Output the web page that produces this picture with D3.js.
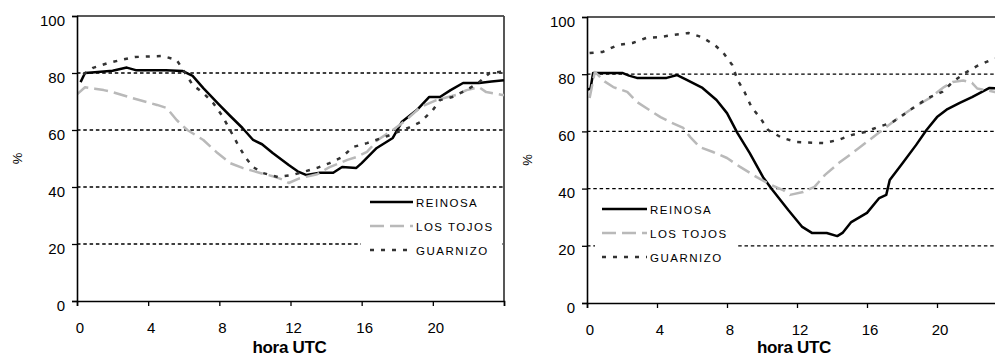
<!DOCTYPE html>
<html>
<head>
<meta charset="utf-8">
<script src="https://cdn.jsdelivr.net/npm/d3@7"></script>
<style>
  html, body { margin: 0; padding: 0; background: #fff; }
  svg { display: block; }
  text { font-family: "Liberation Sans", Arial, sans-serif; fill: #000; }
</style>
</head>
<body>
<svg id="chart" width="995" height="356"></svg>
<script>
// ---------- DATA ----------
const xTicks = [0, 4, 8, 12, 16, 20, 24];
const xTickLabels = ["0", "4", "8", "12", "16", "20", ""];
const yTicks = [0, 20, 40, 60, 80, 100];
const gridValues = [20, 40, 60, 80];
const seriesNames = ["REINOSA", "LOS TOJOS", "GUARNIZO"];
const xTitle = "hora UTC";
const yTitle = "%";

// Left panel: [hour, %]
const leftReinosa = [[0.2,76.8],[0.45,80],[1,80.3],[2,80.8],[2.8,81.9],[3.3,81],[4,81],[5,81],[5.95,80.7],[6.5,79],[7.1,74.7],[8.0,68.8],[8.6,65],[9.3,60.7],[9.9,56.5],[10.4,55],[11.0,51.9],[11.9,47.7],[12.4,45.5],[12.9,44.2],[13.65,45],[14.4,45],[14.9,47],[15.7,46.7],[16.0,48.4],[16.85,53.7],[17.75,57.2],[18.25,62.8],[19.1,67],[19.8,71.6],[20.4,71.6],[21.0,74],[21.7,76.5],[22.6,76.5],[23.3,77],[24,77.5]];
const leftTojos = [[0,72.5],[0.45,75],[1,74.5],[1.5,74],[2,73.3],[3.1,71.2],[3.5,70.5],[4.5,68.8],[5.05,67.7],[5.6,63.5],[6.2,60],[7.1,56.5],[7.9,51.9],[8.6,48.4],[9.3,46.7],[10.3,44.9],[11.0,43.8],[11.6,42.5],[11.9,41.4],[12.5,43],[13.5,44.5],[14.2,47],[15.2,49.5],[15.7,50.5],[16.3,52.3],[16.9,56.5],[17.75,60],[18.5,63.5],[19.3,68],[20.2,70.5],[21.3,72.3],[21.9,74],[22.6,75],[23,73.3],[23.9,72.3],[24,72.3]];
const leftGuarnizo = [[0.35,79.5],[0.9,81.8],[1.75,83.5],[2.5,84.6],[3.25,85.6],[4.8,86],[5.6,84.6],[6.05,80.3],[6.5,75.8],[7.1,73],[7.65,69.5],[8.2,64.6],[8.6,60],[9.0,55.4],[9.45,50.5],[9.9,47],[10.45,44.9],[11.3,43.5],[12.1,44.2],[13.5,46.7],[14.2,48.4],[14.9,50.5],[15.5,54],[16.3,55.4],[17.5,58],[18.6,60.7],[19.3,62.8],[20.0,67],[20.4,70.5],[21.1,71.6],[21.9,74],[22.6,76.8],[23.2,80],[24,80.5]];

// Right panel: [hour, %]
const rightReinosa = [[0,74.5],[0.2,75],[0.35,80.4],[1,80.4],[2.05,80.4],[2.4,79.5],[2.85,78.7],[4.55,78.7],[5.15,79.7],[5.7,78],[6.6,75.2],[7.4,71],[8.0,66.4],[8.6,59.4],[9.3,52.4],[10.06,44],[10.6,39.5],[11.5,32.5],[12.3,26.6],[12.85,24.5],[13.7,24.5],[14.3,23.4],[14.6,24.5],[15.1,28.3],[16.0,31.5],[16.7,36.7],[17.1,37.8],[17.3,43],[18.05,49],[18.8,55.2],[19.4,60.5],[20.0,65],[20.6,67.8],[21.3,70],[22.0,72],[23.0,75.2],[23.5,75],[24,75]];
const rightTojos = [[0.15,71.7],[0.45,80.8],[1,77.5],[1.5,75.5],[2.3,73.8],[2.85,70.3],[4.2,65],[4.75,63.3],[5.5,61.2],[5.9,58],[6.45,54.5],[7.2,52.8],[8.0,50.7],[8.75,47.6],[9.7,44],[10.5,41.3],[11.2,39.5],[11.6,37.8],[12.35,38.8],[13.0,40.6],[13.6,44.8],[14.4,49],[15.5,54],[16.6,59.2],[17.7,64.3],[18.7,68.5],[19.6,71.7],[20.4,75.5],[20.9,77.3],[21.5,77.8],[22.0,77],[22.3,75],[23.3,73.8],[24,73.5]];
const rightGuarnizo = [[0.15,87.4],[0.9,87.8],[1.75,90.2],[2.6,90.9],[3.4,92.7],[4.2,93],[4.9,93.7],[5.8,94.4],[6.55,93],[7.3,90.2],[7.8,87.4],[8.3,83.2],[8.6,78],[9.0,73.8],[9.4,68.5],[9.9,64.7],[10.35,60.5],[11.15,57.7],[12.0,56.3],[13.5,55.9],[14.35,57],[15.1,58.7],[15.9,59.8],[16.6,61.5],[17.4,63],[18.05,65.7],[18.7,68.5],[19.5,71.7],[20.3,73.8],[20.9,77.3],[21.6,80.4],[22.3,82.9],[23.1,85],[24,86.5]];

// ---------- STYLES ----------
const styles = [
  { stroke: "#000", width: 2.5, dash: null },
  { stroke: "#b9b9b9", width: 2.5, dash: "14,6" },
  { stroke: "#333", width: 2.5, dash: "4,7" }
];

const svg = d3.select("#chart");

function drawPanel(p) {
  const x = d3.scaleLinear().domain([0, 24]).range([p.x0, p.x1]);
  const y = d3.scaleLinear().domain([0, 100]).range([p.y0, p.y1]);
  const g = svg.append("g");

  const clipId = "clip" + p.id;
  svg.append("clipPath").attr("id", clipId).append("rect")
    .attr("x", p.x0).attr("y", p.y1).attr("width", p.x1 - p.x0).attr("height", p.y0 - p.y1);

  // gridlines
  g.selectAll(".grid").data(gridValues).enter().append("line")
    .attr("x1", p.x0).attr("x2", p.x1)
    .attr("y1", d => y(d)).attr("y2", d => y(d))
    .attr("stroke", "#000").attr("stroke-width", 1.3)
    .attr("stroke-dasharray", "3.5,2.8");

  // plot border top & right
  g.append("line").attr("x1", p.x0).attr("x2", p.x1).attr("y1", y(100)).attr("y2", y(100))
    .attr("stroke", "#222").attr("stroke-width", 1.5);
  g.append("line").attr("x1", p.x1).attr("x2", p.x1).attr("y1", y(100)).attr("y2", y(0))
    .attr("stroke", "#444").attr("stroke-width", 1.8);

  // series
  const line = d3.line().x(d => x(d[0])).y(d => y(d[1]));
  const lg = g.append("g").attr("clip-path", `url(#${clipId})`);
  p.series.forEach((s, i) => {
    const path = lg.append("path").datum(s).attr("d", line)
      .attr("fill", "none").attr("stroke", styles[i].stroke)
      .attr("stroke-width", styles[i].width)
      .attr("stroke-linejoin", "round");
    if (styles[i].dash) path.attr("stroke-dasharray", styles[i].dash);
  });

  // legend
  const L = p.legend;
  g.append("rect").attr("x", L.bx).attr("y", L.by).attr("width", L.bw).attr("height", L.bh).attr("fill", "#fff");
  seriesNames.forEach((name, i) => {
    const yy = L.y + i * L.step;
    const ln = g.append("line").attr("x1", L.lx0).attr("x2", L.lx1).attr("y1", yy).attr("y2", yy)
      .attr("stroke", styles[i].stroke).attr("stroke-width", styles[i].width);
    if (styles[i].dash) ln.attr("stroke-dasharray", styles[i].dash);
    g.append("text").attr("x", L.lx1 + 3).attr("y", yy + 4.5)
      .attr("font-size", 11.5).attr("letter-spacing", 1.5).text(name);
  });

  // y axis
  const ya = d3.axisLeft(y).tickValues(yTicks).tickSize(5).tickPadding(7);
  const yg = g.append("g").attr("transform", `translate(${p.x0},0)`).call(ya);
  yg.select(".domain").attr("stroke", "#000").attr("stroke-width", 1.6);
  yg.selectAll(".tick line").attr("stroke", "#000").attr("stroke-width", 1.3);
  yg.selectAll(".tick text").attr("font-size", 15).attr("dy", "0.6em")
    .style("font-family", "'Liberation Sans', Arial, sans-serif");

  // x axis
  const xa = d3.axisBottom(x).tickValues(xTicks).tickSize(5).tickPadding(16)
    .tickFormat((d, i) => xTickLabels[i]);
  const xg = g.append("g").attr("transform", `translate(0,${p.y0})`).call(xa);
  xg.select(".domain").attr("stroke", "#000").attr("stroke-width", 1.6);
  xg.selectAll(".tick line").attr("stroke", "#000").attr("stroke-width", 1.3);
  xg.selectAll(".tick text").attr("font-size", 15).attr("dx", 2.5)
    .style("font-family", "'Liberation Sans', Arial, sans-serif");

  // axis titles
  g.append("text").attr("x", (p.x0 + p.x1) / 2 + p.titleDx).attr("y", 353)
    .attr("text-anchor", "middle").attr("font-size", 17).attr("font-weight", "bold")
    .attr("letter-spacing", -0.3).text(xTitle);
  g.append("text").attr("transform", `translate(${p.yTitleX},${(p.y0 + p.y1) / 2})rotate(-90)`)
    .attr("text-anchor", "middle").attr("font-size", 13).text(yTitle);
}

drawPanel({
  id: "L", x0: 77, x1: 504, y0: 301, y1: 16, titleDx: -1, yTitleX: 22,
  series: [leftReinosa, leftTojos, leftGuarnizo],
  legend: { bx: 361, by: 193, bw: 141, bh: 70, lx0: 370, lx1: 413, y: 202, step: 24 }
});
drawPanel({
  id: "R", x0: 587, x1: 1007, y0: 303, y1: 17, titleDx: -3, yTitleX: 532,
  series: [rightReinosa, rightTojos, rightGuarnizo],
  legend: { bx: 595, by: 197, bw: 143, bh: 72, lx0: 602, lx1: 647, y: 209, step: 24 }
});
</script>
</body>
</html>
